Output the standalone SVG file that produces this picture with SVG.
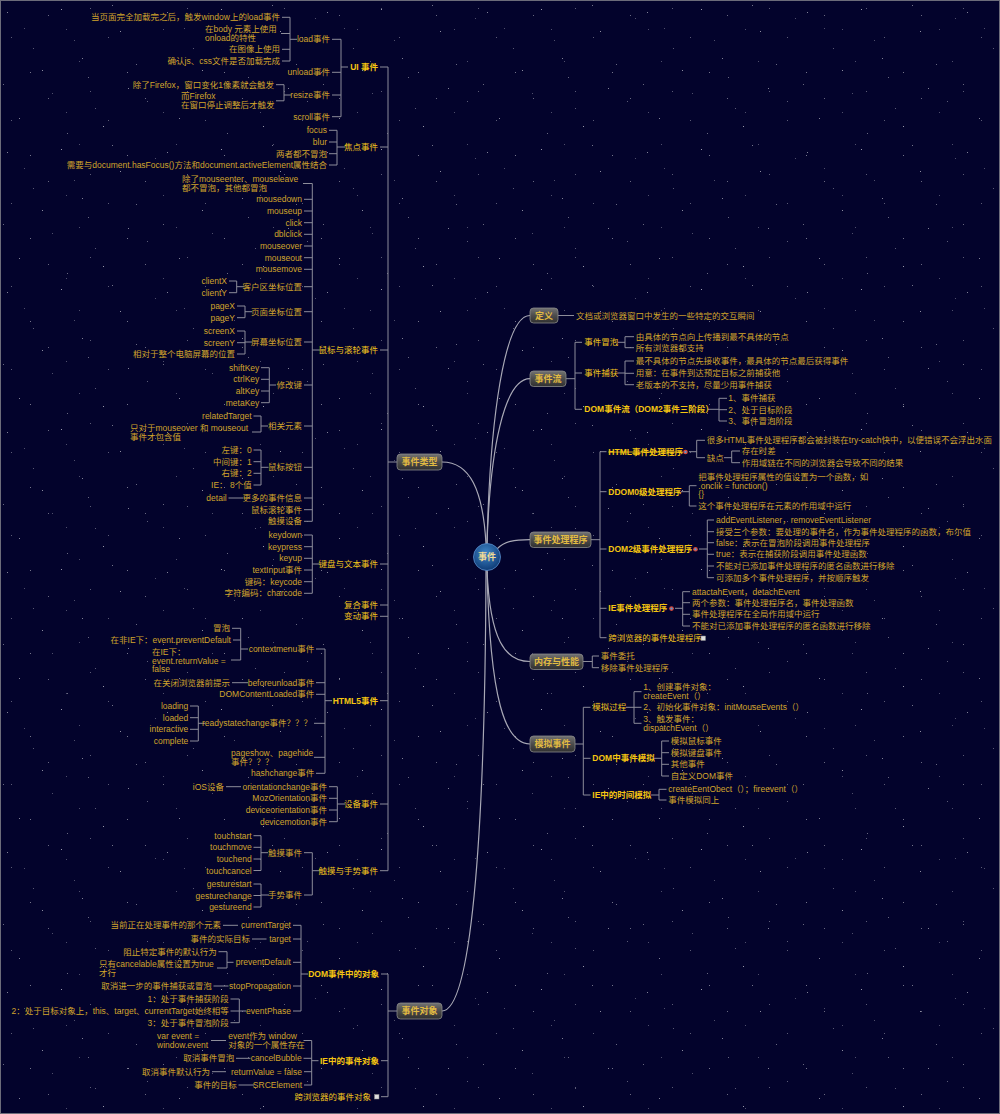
<svg xmlns="http://www.w3.org/2000/svg" width="1000" height="1114" viewBox="0 0 1000 1114">
<defs>
<style>
text{font-family:"Liberation Sans","Noto Sans CJK SC",sans-serif;font-size:8.5px;fill:#d1a42b}
.e{text-anchor:end}
.h{fill:#f0c21c}
.b{fill:#f5c511;font-weight:bold}
.s{text-decoration:line-through}
.nt{font-size:9px;fill:#e2bb42;text-anchor:middle;font-weight:bold}
.ln{fill:none;stroke:#8d8d9a;stroke-width:1}
.cv{fill:none;stroke:#a9a9b6;stroke-width:1.2}
.box{fill:url(#gbox);stroke:#8a8a8a;stroke-width:0.8}
</style>
<linearGradient id="gbox" x1="0" y1="0" x2="0" y2="1"><stop offset="0" stop-color="#727272"/><stop offset="0.5" stop-color="#4c4c4c"/><stop offset="1" stop-color="#303030"/></linearGradient>
<radialGradient id="gc" cx="0.45" cy="0.35" r="0.7"><stop offset="0" stop-color="#3f86c8"/><stop offset="1" stop-color="#0b3670"/></radialGradient>
<pattern id="stars" width="160" height="140" patternUnits="userSpaceOnUse">
<g fill="#fff">
<rect x="7" y="12" width="1" height="1" opacity="0.5"/><rect x="33" y="48" width="1" height="1" opacity="0.35"/><rect x="61" y="9" width="1" height="1" opacity="0.6"/><rect x="88" y="77" width="1" height="1" opacity="0.4"/><rect x="120" y="31" width="1" height="1" opacity="0.55"/><rect x="147" y="101" width="1" height="1" opacity="0.35"/><rect x="19" y="118" width="1" height="1" opacity="0.5"/><rect x="52" y="93" width="1" height="1" opacity="0.3"/><rect x="103" y="126" width="1" height="1" opacity="0.6"/><rect x="136" y="64" width="1" height="1" opacity="0.4"/><rect x="74" y="40" width="1" height="1" opacity="0.3"/><rect x="112" y="5" width="1" height="1" opacity="0.45"/><rect x="42" y="70" width="1" height="1" opacity="0.55"/><rect x="155" y="18" width="1" height="1" opacity="0.3"/><rect x="95" y="108" width="1" height="1" opacity="0.35"/><rect x="3" y="84" width="1" height="1" opacity="0.4"/><rect x="128" y="88" width="1" height="1" opacity="0.5"/><rect x="67" y="133" width="1" height="1" opacity="0.4"/><rect x="24" y="28" width="1" height="1" opacity="0.3"/><rect x="82" y="58" width="1" height="1" opacity="0.5"/>
</g>
</pattern>
<pattern id="stars2" width="97" height="83" patternUnits="userSpaceOnUse">
<g fill="#fff"><rect x="11" y="37" width="1" height="1" opacity="0.35"/><rect x="48" y="15" width="1" height="1" opacity="0.4"/><rect x="79" y="61" width="1" height="1" opacity="0.3"/><rect x="30" y="72" width="1" height="1" opacity="0.45"/><rect x="66" y="29" width="1" height="1" opacity="0.3"/><rect x="90" y="8" width="1" height="1" opacity="0.35"/></g>
</pattern>
</defs>
<rect width="1000" height="1114" fill="#03032c"/>
<rect width="1000" height="1114" fill="url(#stars)"/>
<rect width="1000" height="1114" fill="url(#stars2)"/>
<rect x="0.5" y="0.5" width="999" height="1113" fill="none" stroke="#6c6c7a"/>

<g id="connectors">
<path class="cv" d="M487 544C490 420 504 315.5 530 315.5"/>
<path class="cv" d="M487 544C490 450 504 378.7 530 378.7"/>
<path class="cv" d="M497 549C505 541 514 539.7 530 539.7"/>
<path class="cv" d="M487 570C490 640 505 661.5 530 661.5"/>
<path class="cv" d="M487 570C490 700 505 744 530 744"/>
<path class="cv" d="M442 462C470 462 483 490 486 544"/>
<path class="cv" d="M486 570C485 850 470 1011 442 1011"/>
<path class="ln" d="M282 17.3H290M281 33.5H290M282 49.3H290M282 61H290M290 17.3V61M290 39.3H297"/>
<path class="ln" d="M276 84.7H284M276 100.8H284M284 84.7V100.8M284 95H291"/>
<path class="ln" d="M332 39.3H341M332 72.3H341M332 95H341M332 116.7H341M341 39.3V116.7M341 67H348M380 67H388"/>
<path class="ln" d="M329 130.3H337M329 142H337M329 153.7H337M329 165H337M337 130.3V165M337 147H345M380 147H388"/>
<path class="ln" d="M303 183.5H312.3M304 199.3H312.3M304 211H312.3M304 222.7H312.3M304 234.3H312.3M304 246H312.3M304 257.7H312.3M304 269.3H312.3M304 286.7H312.3M304 311.7H312.3M304 342H312.3M304 385H312.3M304 426H312.3M304 467.3H312.3M304 498H312.3M304 509.7H312.3M304 521.3H312.3M312.3 183.5V521.3M312.3 350H320M380 350H388"/>
<path class="ln" d="M229 281H236.7M229 292.7H236.7M236.7 281V292.7M236.7 286.7H244"/>
<path class="ln" d="M237 306H245M237 317.7H245M245 306V317.7M245 311.7H252"/>
<path class="ln" d="M237 331H245M237 342.7H245M237 354H245M245 331V354M245 342H252"/>
<path class="ln" d="M261 367.7H269.3M261 379.3H269.3M261 391H269.3M261 402.7H269.3M269.3 367.7V402.7M269.3 385H276"/>
<path class="ln" d="M253.5 416H261M252 432H261M261 416V432M261 426H268"/>
<path class="ln" d="M253.5 450H261M253.5 461.7H261M253.5 473.3H261M253.5 485H261M261 450V485M261 467.3H268.5"/>
<path class="ln" d="M228.5 498H243.5"/>
<path class="ln" d="M304 535H312.3M304 546.7H312.3M304 558.3H312.3M304 570H312.3M304 581.7H312.3M304 593.3H312.3M312.3 535V593.3M312.3 564H320M380 564H388"/>
<path class="ln" d="M380 605H388M380 616.3H388"/>
<path class="ln" d="M316 649H325M316 682.7H325M316 694.3H325M314 723.3H325M314 757.3H325M316 773.3H325M325 649V773.3M325 700.7H332M380 700.7H388"/>
<path class="ln" d="M232 628.3H240.7M233 640H240.7M231 660H240.7M240.7 628.3V660M240.7 649H248"/>
<path class="ln" d="M232 682.7H248"/>
<path class="ln" d="M190 706H198.3M190 717.7H198.3M190 729.3H198.3M190 741H198.3M198.3 706V741M198.3 723.3H205"/>
<path class="ln" d="M329 786.7H337.3M329 798.3H337.3M329 810H337.3M329 821.7H337.3M337.3 786.7V821.7M337.3 804H345M380 804H388"/>
<path class="ln" d="M226 786.7H241"/>
<path class="ln" d="M253.5 835.7H261M253.5 847.3H261M253.5 859H261M253.5 870.5H261M261 835.7V870.5M261 852.7H268"/>
<path class="ln" d="M253.5 884H261M253.5 895.5H261M253.5 907H261M261 884V907M261 895H269"/>
<path class="ln" d="M304 852.7H312.3M304 895H312.3M312.3 852.7V895M312.3 870.7H320M380 870.7H388"/>
<path class="ln" d="M388 67V870.7M388 462H397"/>
<path class="ln" d="M293 925.3H301M293 939H301M293 962.3H301M293 986H301M293 1011H301M301 925.3V1011M301 974H308M381 974H388"/>
<path class="ln" d="M223 925.3H238M252 939H266.5M213.5 986H228.5"/>
<path class="ln" d="M218.5 951.7H227M217 968H227M227 951.7V968M227 962.3H233.5"/>
<path class="ln" d="M230.5 999H239.3M230.5 1011H239.3M230.5 1022.7H239.3M239.3 999V1022.7M239.3 1011H246"/>
<path class="ln" d="M303.5 1040.5H311.7M303.5 1058.3H311.7M304 1071.7H311.7M304 1085H311.7M311.7 1040.5V1085M311.7 1060.7H318.5M381 1060.7H388"/>
<path class="ln" d="M211 1040.5H226M236 1058.3H250.5M212 1071.7H226M238.5 1085H254"/>
<path class="ln" d="M381 1096.7H388M388 974V1096.7M388 1011H397"/>
<path class="ln" d="M558 315.5H574"/>
<path class="ln" d="M566 378.7H575M575 342.3V409.3M575 342.3H582M575 373H582M575 409.3H582"/>
<path class="ln" d="M618 342.3H625M625 336.7V347.7M625 336.7H634M625 347.7H634"/>
<path class="ln" d="M618 373H625M625 361V384.7M625 361H634M625 373.3H634M625 384.7H634"/>
<path class="ln" d="M708 409.3H719M719 398.3V421M719 398.3H727M719 409.7H727M719 421H727"/>
<path class="ln" d="M591 539.7H600M600 451.7V637.7M600 451.7H606.5M600 491.7H606.5M600 549H606.5M600 608.3H606.5M600 637.7H606.5"/>
<path class="ln" d="M689 451.7H696.7M696.7 440.3V457.7M696.7 440.3H705M696.7 457.7H705"/>
<path class="ln" d="M724 457.7H731.7M731.7 451V462.7M731.7 451H740M731.7 462.7H740"/>
<path class="ln" d="M681 491.7H689.3M689.3 485.7V506M689.3 485.7H696.5M689.3 506H696.5"/>
<path class="ln" d="M699 549H707.3M707.3 520V577.7M707.3 520H714M707.3 531.7H714M707.3 542.7H714M707.3 554.3H714M707.3 566H714M707.3 577.7H714"/>
<path class="ln" d="M675 608.3H682.7M682.7 591.7V626M682.7 591.7H690M682.7 602.7H690M682.7 614.3H690M682.7 626H690"/>
<path class="ln" d="M583 661.5H592.3M592.3 656V667.7M592.3 656H599M592.3 667.7H599"/>
<path class="ln" d="M575 744H583.3M583.3 707.3V795M583.3 707.3H590.5M583.3 758.3H590.5M583.3 795H590.5"/>
<path class="ln" d="M626 707.3H634M634 691.7V723.3M634 691.7H641.5M634 707.3H641.5M634 723.3H641.5"/>
<path class="ln" d="M653.5 758.3H661.7M661.7 741V776M661.7 741H669M661.7 752.7H669M661.7 764.3H669M661.7 776H669"/>
<path class="ln" d="M651 795H659M659 789.3V800M659 789.3H666.5M659 800H666.5"/>
</g>

<g id="center"><circle cx="487" cy="557" r="13.5" fill="url(#gc)" stroke="#5a8fcf" stroke-width="0.8"/><text class="nt" x="487" y="560" style="fill:#f2dc96">事件</text></g>
<g id="n-dingyi"><rect class="box" x="530" y="308" width="28" height="15" rx="3.5"/><text class="nt" x="544" y="318.5">定义</text></g>
<g id="n-shijianliu"><rect class="box" x="530" y="371" width="36" height="15.5" rx="3.5"/><text class="nt" x="548" y="381.7">事件流</text></g>
<g id="n-chuli"><rect class="box" x="530" y="532" width="61" height="15.5" rx="3.5"/><text class="nt" x="560.5" y="542.7">事件处理程序</text></g>
<g id="n-neicun"><rect class="box" x="530" y="654" width="53" height="15.5" rx="3.5"/><text class="nt" x="556.5" y="664.7">内存与性能</text></g>
<g id="n-moni"><rect class="box" x="530" y="736" width="45" height="16" rx="3.5"/><text class="nt" x="552.5" y="747">模拟事件</text></g>
<g id="n-leixing"><rect class="box" x="397" y="454" width="45" height="16" rx="3.5"/><text class="nt" x="419.5" y="465">事件类型</text></g>
<g id="n-duixiang"><rect class="box" x="397" y="1003" width="45" height="16" rx="3.5"/><text class="nt" x="419.5" y="1014">事件对象</text></g>

<g id="ui">
<text class="e" x="280" y="20.3">当页面完全加载完之后，触发window上的load事件</text>
<text x="205" y="32"><tspan x="205" y="32">在body 元素上使用</tspan><tspan x="205" y="41">onload的特性</tspan></text>
<text class="e" x="280" y="52.3">在图像上使用</text>
<text class="e" x="280" y="64">确认js、css文件是否加载完成</text>
<text class="e" x="330" y="42.3">load事件</text>
<text class="e" x="330" y="75.3">unload事件</text>
<text class="e" x="274" y="87.7">除了Firefox，窗口变化1像素就会触发</text>
<text x="181" y="99.3"><tspan x="181" y="99.3">而Firefox</tspan><tspan x="181" y="108.3">在窗口停止调整后才触发</tspan></text>
<text class="e" x="330" y="98">resize事件</text>
<text class="e" x="330" y="119.7">scroll事件</text>
<text class="e b" x="378" y="70">UI 事件</text>
</g>
<g id="focus">
<text class="e" x="327" y="133.3">focus</text>
<text class="e" x="327" y="145">blur</text>
<text class="e" x="327" y="156.7">两者都不冒泡</text>
<text class="e" x="327" y="168">需要与document.hasFocus()方法和document.activeElement属性结合</text>
<text class="e h" x="378" y="150">焦点事件</text>
</g>
<g id="mouse">
<text x="182" y="182"><tspan x="182" y="182">除了mouseenter、mouseleave</tspan><tspan x="182" y="191">都不冒泡，其他都冒泡</tspan></text>
<text class="e" x="302" y="202.3">mousedown</text>
<text class="e" x="302" y="214">mouseup</text>
<text class="e" x="302" y="225.7">click</text>
<text class="e" x="302" y="237.3">dblclick</text>
<text class="e" x="302" y="249">mouseover</text>
<text class="e" x="302" y="260.7">mouseout</text>
<text class="e" x="302" y="272.3">mousemove</text>
<text class="e" x="227" y="284">clientX</text>
<text class="e" x="227" y="295.7">clientY</text>
<text class="e" x="302" y="289.7">客户区坐标位置</text>
<text class="e" x="235" y="309">pageX</text>
<text class="e" x="235" y="320.7">pageY</text>
<text class="e" x="302" y="314.7">页面坐标位置</text>
<text class="e" x="235" y="334">screenX</text>
<text class="e" x="235" y="345.7">screenY</text>
<text class="e" x="235" y="357">相对于整个电脑屏幕的位置</text>
<text class="e" x="302" y="345">屏幕坐标位置</text>
<text class="e h" x="378" y="353">鼠标与滚轮事件</text>
<text class="e" x="259.3" y="370.7">shiftKey</text>
<text class="e" x="259.3" y="382.3">ctrlKey</text>
<text class="e" x="259.3" y="394">altKey</text>
<text class="e" x="259.3" y="405.7">metaKey</text>
<text class="e" x="302" y="388">修改键</text>
<text class="e" x="251.7" y="419">relatedTarget</text>
<text x="130" y="430.7"><tspan x="130" y="430.7">只对于mouseover 和 mouseout</tspan><tspan x="130" y="439.7">事件才包含值</tspan></text>
<text class="e" x="302" y="429">相关元素</text>
<text class="e" x="251.7" y="453">左键：0</text>
<text class="e" x="251.7" y="464.7">中间键：1</text>
<text class="e" x="251.7" y="476.3">右键：2</text>
<text class="e" x="251.7" y="488">IE： 8个值</text>
<text class="e" x="302" y="470.3">鼠标按钮</text>
<text class="e" x="226.7" y="501">detail</text>
<text class="e" x="302" y="501">更多的事件信息</text>
<text class="e" x="302" y="512.7">鼠标滚轮事件</text>
<text class="e" x="302" y="524.3">触摸设备</text>
</g>
<g id="keyboard">
<text class="e" x="302" y="538">keydown</text>
<text class="e" x="302" y="549.7">keypress</text>
<text class="e" x="302" y="561.3">keyup</text>
<text class="e" x="302" y="573">textInput事件</text>
<text class="e" x="302" y="584.7">键码：keycode</text>
<text class="e" x="302" y="596.3">字符编码：charcode</text>
<text class="e h" x="378" y="567">键盘与文本事件</text>
<text class="e h" x="378" y="608">复合事件</text>
<text class="e h" x="378" y="619.3">变动事件</text>
</g>
<g id="html5">
<text class="e" x="230" y="631.3">冒泡</text>
<text class="e" x="231" y="643">在非IE下：event.preventDefault</text>
<text x="152" y="654.7"><tspan x="152" y="654.7">在IE下：</tspan><tspan x="152" y="663.7">event.returnValue =</tspan><tspan x="152" y="672.3">false</tspan></text>
<text class="e" x="314.3" y="652">contextmenu事件</text>
<text class="e" x="230" y="685.7">在关闭浏览器前提示</text>
<text class="e" x="314.3" y="685.7">beforeunload事件</text>
<text class="e" x="314.3" y="697.3">DOMContentLoaded事件</text>
<text class="e b" x="378" y="703.7">HTML5事件</text>
<text class="e" x="188.3" y="709">loading</text>
<text class="e" x="188.3" y="720.7">loaded</text>
<text class="e" x="188.3" y="732.3">interactive</text>
<text class="e" x="188.3" y="744">complete</text>
<text class="e" x="312" y="726.3">readystatechange事件？？？</text>
<text x="231" y="756.3"><tspan x="231" y="756.3">pageshow、pagehide</tspan><tspan x="231" y="764.7">事件？？？</tspan></text>
<text class="e" x="314.3" y="776.3">hashchange事件</text>
</g>
<g id="device">
<text class="e" x="224" y="789.7">iOS设备</text>
<text class="e" x="327" y="789.7">orientationchange事件</text>
<text class="e" x="327" y="801.3">MozOrientation事件</text>
<text class="e" x="327" y="813">deviceorientation事件</text>
<text class="e" x="327" y="824.7">devicemotion事件</text>
<text class="e h" x="378" y="807">设备事件</text>
</g>
<g id="touch">
<text class="e" x="251.7" y="838.7">touchstart</text>
<text class="e" x="251.7" y="850.3">touchmove</text>
<text class="e" x="251.7" y="862">touchend</text>
<text class="e" x="251.7" y="873.5">touchcancel</text>
<text class="e" x="302" y="855.7">触摸事件</text>
<text class="e" x="251.7" y="887">gesturestart</text>
<text class="e" x="251.7" y="898.5">gesturechange</text>
<text class="e" x="251.7" y="910">gestureend</text>
<text class="e" x="302" y="898">手势事件</text>
<text class="e h" x="378" y="873.7">触摸与手势事件</text>
</g>
<g id="domobj">
<text class="e" x="221" y="928.3">当前正在处理事件的那个元素</text>
<text class="e" x="291" y="928.3">currentTarget</text>
<text class="e" x="250" y="942">事件的实际目标</text>
<text class="e" x="291" y="942">target</text>
<text class="e" x="216.7" y="954.7">阻止特定事件的默认行为</text>
<text x="99" y="966.7"><tspan x="99" y="966.7">只有cancelable属性设置为true</tspan><tspan x="99" y="975.7">才行</tspan></text>
<text class="e" x="291" y="965.3">preventDefault</text>
<text class="e" x="211.7" y="989">取消进一步的事件捕获或冒泡</text>
<text class="e" x="291" y="989">stopPropagation</text>
<text class="e" x="228.7" y="1002">1：处于事件捕获阶段</text>
<text class="e" x="228.7" y="1014">2：处于目标对象上，this、target、currentTarget始终相等</text>
<text class="e" x="228.7" y="1025.7">3：处于事件冒泡阶段</text>
<text class="e" x="291" y="1014">eventPhase</text>
<text class="e b" x="379" y="977">DOM事件中的对象</text>
</g>
<g id="ieobj">
<text x="157" y="1039"><tspan x="157" y="1039">var event =</tspan><tspan x="157" y="1048">window.event</tspan></text>
<text x="228.3" y="1039"><tspan x="228.3" y="1039">event作为 window</tspan><tspan x="228.3" y="1048">对象的一个属性存在</tspan></text>
<text class="e" x="234.3" y="1061.3">取消事件冒泡</text>
<text class="e" x="301.7" y="1061.3">cancelBubble</text>
<text class="e" x="210" y="1074.7">取消事件默认行为</text>
<text class="e" x="302" y="1074.7">returnValue = false</text>
<text class="e" x="236.7" y="1088">事件的目标</text>
<text class="e" x="302" y="1088">SRCElement</text>
<text class="e b" x="379" y="1063.7">IE中的事件对象</text>
</g>
<g id="crossobj"><text class="e h" x="371" y="1099.7">跨浏览器的事件对象</text><rect x="374.5" y="1094.5" width="4.5" height="4.5" fill="#ddd" stroke="#888" stroke-width="0.5"/></g>

<g id="def"><text x="576" y="318.5">文档或浏览器窗口中发生的一些特定的交互瞬间</text></g>
<g id="flow">
<text class="h" x="584.3" y="345.3">事件冒泡</text>
<text x="635.7" y="339.7">由具体的节点向上传播到最不具体的节点</text>
<text x="635.7" y="350.7">所有浏览器都支持</text>
<text class="h" x="584.3" y="376">事件捕获</text>
<text x="635.7" y="364">最不具体的节点先接收事件，最具体的节点最后获得事件</text>
<text x="635.7" y="376.3">用意：在事件到达预定目标之前捕获他</text>
<text x="635.7" y="387.7">老版本的不支持，尽量少用事件捕获</text>
<text class="b" x="584.3" y="412.3">DOM事件流（DOM2事件三阶段）</text>
<text x="728.3" y="401.3">1、事件捕获</text>
<text x="728.3" y="412.7">2、处于目标阶段</text>
<text x="728.3" y="424">3、事件冒泡阶段</text>
</g>
<g id="handlers">
<text class="b s" x="608.3" y="454.7">HTML事件处理程序</text>
<circle cx="685.5" cy="452" r="2.3" fill="#d9493b"/><circle cx="685.5" cy="452" r="1.1" fill="#4a9ee0"/>
<text x="706.7" y="443.3">很多HTML事件处理程序都会被封装在try-catch快中，以便错误不会浮出水面</text>
<text x="706.7" y="460.7">缺点</text>
<text x="741.7" y="454">存在时差</text>
<text x="741.7" y="465.7">作用域链在不同的浏览器会导致不同的结果</text>
<text class="b" x="608.3" y="494.7">DDOM0级处理程序</text>
<text x="698.3" y="479.7"><tspan x="698.3" y="479.7">把事件处理程序属性的值设置为一个函数，如</tspan><tspan x="698.3" y="488.7">.onclik = function()</tspan><tspan x="698.3" y="497.3">{}</tspan></text>
<text x="698.3" y="509">这个事件处理程序在元素的作用域中运行</text>
<text class="b" x="608.3" y="552">DOM2级事件处理程序</text>
<circle cx="695.5" cy="549.3" r="2.3" fill="#d9493b"/><circle cx="695.5" cy="549.3" r="1.1" fill="#4a9ee0"/>
<text x="716" y="523">addEventListener，removeEventListener</text>
<text x="716" y="534.7">接受三个参数：要处理的事件名，作为事件处理程序的函数，布尔值</text>
<text x="716" y="545.7">false：表示在冒泡阶段调用事件处理程序</text>
<text x="716" y="557.3">true：表示在捕获阶段调用事件处理函数</text>
<text x="716" y="569">不能对已添加事件处理程序的匿名函数进行移除</text>
<text x="716" y="580.7">可添加多个事件处理程序，并按顺序触发</text>
<text class="b" x="608.3" y="611.3">IE事件处理程序</text>
<circle cx="671.5" cy="608.6" r="2.3" fill="#d9493b"/><circle cx="671.5" cy="608.6" r="1.1" fill="#4a9ee0"/>
<text x="692" y="594.7">attactahEvent，detachEvent</text>
<text x="692" y="605.7">两个参数：事件处理程序名，事件处理函数</text>
<text x="692" y="617.3">事件处理程序在全局作用域中运行</text>
<text x="692" y="629">不能对已添加事件处理程序的匿名函数进行移除</text>
<text class="h" x="608.3" y="640.7">跨浏览器的事件处理程序</text>
<rect x="701" y="636" width="4.5" height="4.5" fill="#ddd" stroke="#888" stroke-width="0.5"/>
</g>
<g id="memory">
<text x="600.7" y="659">事件委托</text>
<text x="600.7" y="670.7">移除事件处理程序</text>
</g>
<g id="simulate">
<text class="h" x="592.3" y="710.3">模拟过程</text>
<text x="643.3" y="689.7"><tspan x="643.3" y="689.7">1、创建事件对象：</tspan><tspan x="643.3" y="699">createEvent（）</tspan></text>
<text x="643.3" y="710.3">2、初始化事件对象：initMouseEvents（）</text>
<text x="643.3" y="722"><tspan x="643.3" y="722">3、触发事件：</tspan><tspan x="643.3" y="730.7">dispatchEvent（）</tspan></text>
<text class="b" x="592.3" y="761.3">DOM中事件模拟</text>
<text x="670.7" y="744">模拟鼠标事件</text>
<text x="670.7" y="755.7">模拟键盘事件</text>
<text x="670.7" y="767">其他事件</text>
<text x="670.7" y="779">自定义DOM事件</text>
<text class="b" x="592.3" y="798">IE中的时间模拟</text>
<text x="668.3" y="792.3">createEentObect（）；fireevent（）</text>
<text x="668.3" y="803">事件模拟同上</text>
</g>
</svg>
